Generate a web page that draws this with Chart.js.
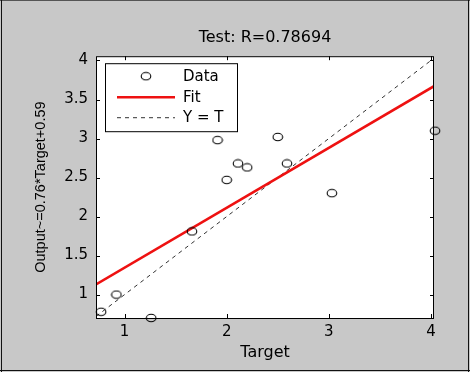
<!DOCTYPE html>
<html lang="en">
<head>
<meta charset="UTF-8">
<title>Test: R=0.78694</title>
<script src="https://cdn.jsdelivr.net/npm/chart.js"></script>
<style>
  html, body { margin: 0; padding: 0; background: #c8c8c8; }
  canvas { display: block; }
</style>
</head>
<body>
<canvas id="regChart" width="470" height="372"></canvas>
<script>
// values
const targets = [0.77, 0.92, 1.26, 1.66, 1.91, 2.00, 2.11, 2.20, 2.50, 2.59, 3.03, 4.04];
const outputs = [0.78, 1.00, 0.70, 1.81, 2.98, 2.47, 2.68, 2.63, 3.02, 2.68, 2.30, 3.10];
const fitX = [0.72, 4.03];
const fitY = [1.13, 3.67];
const identX = [0.72, 4.03];
const identY = [0.72, 4.03];
const xTicks = [1, 2, 3, 4];
const yTicks = [1, 1.5, 2, 2.5, 3, 3.5, 4];
const legendLabels = ['Data', 'Fit', 'Y = T'];

const WIDE = 'DejaVu Sans, Verdana, sans-serif';
const NARROW = 'Liberation Sans, Arial, sans-serif';

function toPoints(xs, ys) {
    return xs.map((x, i) => ({ x: x, y: ys[i] }));
}

// the markers in the picture are slightly wider than tall
const ring = document.createElement('canvas');
ring.width = 12;
ring.height = 10;
(function () {
    const c = ring.getContext('2d');
    c.strokeStyle = '#000';
    c.lineWidth = 1.1;
    c.beginPath();
    c.ellipse(6, 5, 4.8, 3.7, 0, 0, Math.PI * 2);
    c.stroke();
})();

// grey frame, white axes, box, inward ticks and the legend
const matlabLook = {
    id: 'matlabLook',
    beforeDraw(chart) {
        const { ctx, chartArea: a } = chart;
        ctx.save();
        ctx.fillStyle = '#c8c8c8';
        ctx.fillRect(0, 0, chart.width, chart.height);
        ctx.strokeStyle = '#555';
        ctx.lineWidth = 1;
        ctx.beginPath();
        ctx.moveTo(0, 0.5); ctx.lineTo(470, 0.5);
        ctx.stroke();
        ctx.strokeStyle = '#111';
        ctx.beginPath();
        ctx.moveTo(1.5, 0); ctx.lineTo(1.5, 372);
        ctx.moveTo(468.5, 0); ctx.lineTo(468.5, 372);
        ctx.moveTo(0, 370.5); ctx.lineTo(470, 370.5);
        ctx.stroke();
        ctx.fillStyle = '#fff';
        ctx.fillRect(a.left, a.top, a.right - a.left, a.bottom - a.top);
        ctx.restore();
    },
    afterDraw(chart) {
        const { ctx, chartArea: a, scales } = chart;
        ctx.save();
        ctx.strokeStyle = '#000';
        ctx.lineWidth = 1;
        ctx.strokeRect(a.left + 0.5, a.top + 0.5, a.right - a.left - 1, a.bottom - a.top);
        ctx.beginPath();
        xTicks.forEach(v => {
            const px = Math.round(scales.x.getPixelForValue(v)) + 0.5;
            ctx.moveTo(px, a.bottom); ctx.lineTo(px, a.bottom - 4);
            ctx.moveTo(px, a.top); ctx.lineTo(px, a.top + 4);
        });
        yTicks.forEach(v => {
            const py = Math.round(scales.y.getPixelForValue(v)) + 0.5;
            ctx.moveTo(a.left, py); ctx.lineTo(a.left + 4, py);
            ctx.moveTo(a.right, py); ctx.lineTo(a.right - 4, py);
        });
        ctx.stroke();

        // legend box
        const lx = a.left + 9, ly = a.top + 7, lw = 132, lh = 68;
        ctx.fillStyle = '#fff';
        ctx.fillRect(lx, ly, lw, lh);
        ctx.strokeRect(lx + 0.5, ly + 0.5, lw, lh);
        const rows = [ly + 13, ly + 34, ly + 54];
        const sets = chart.data.datasets;
        ctx.font = '15px ' + WIDE;
        ctx.textBaseline = 'middle';
        ctx.fillStyle = '#000';
        legendLabels.forEach((t, i) => ctx.fillText(t, lx + 78, rows[i] + 1));

        ctx.drawImage(ring, lx + 41 - ring.width / 2, rows[0] - ring.height / 2);

        ctx.strokeStyle = sets[1].borderColor;
        ctx.lineWidth = sets[1].borderWidth;
        ctx.beginPath();
        ctx.moveTo(lx + 12, rows[1]); ctx.lineTo(lx + 70, rows[1]);
        ctx.stroke();

        ctx.strokeStyle = sets[2].borderColor;
        ctx.lineWidth = 1;
        ctx.setLineDash(sets[2].borderDash);
        ctx.beginPath();
        ctx.moveTo(lx + 12, rows[2] + 0.5); ctx.lineTo(lx + 70, rows[2] + 0.5);
        ctx.stroke();
        ctx.restore();
    }
};

new Chart(document.getElementById('regChart'), {
    type: 'scatter',
    data: {
        datasets: [
            {
                label: legendLabels[0],
                data: toPoints(targets, outputs),
                showLine: false,
                pointStyle: ring,
                borderColor: '#000',
                clip: false,
                order: 0
            },
            {
                label: legendLabels[1],
                data: toPoints(fitX, fitY),
                showLine: true,
                borderColor: '#ee1111',
                borderWidth: 2.6,
                pointRadius: 0,
                order: 1
            },
            {
                label: legendLabels[2],
                data: toPoints(identX, identY),
                showLine: true,
                borderColor: '#333',
                borderWidth: 1,
                borderDash: [4, 4],
                pointRadius: 0,
                order: 2
            }
        ]
    },
    options: {
        responsive: false,
        animation: false,
        layout: { padding: { left: 0, right: 36, top: 0, bottom: 0 } },
        plugins: {
            legend: { display: false },
            tooltip: { enabled: false },
            title: {
                display: true,
                fullSize: false,
                text: 'Test: R=0.78694',
                color: '#000',
                font: { family: WIDE, size: 16, weight: 'normal' },
                padding: { top: 28, bottom: 9 }
            }
        },
        scales: {
            x: {
                type: 'linear',
                min: 0.72,
                max: 4.03,
                afterFit(scale) { scale.height = 54; },
                afterBuildTicks(scale) { scale.ticks = xTicks.map(v => ({ value: v })); },
                grid: { display: false, drawTicks: false },
                border: { display: false },
                ticks: {
                    color: '#000', padding: 5, font: { family: WIDE, size: 15 },
                    callback: v => String(v)
                },
                title: {
                    display: true,
                    text: 'Target',
                    color: '#000',
                    font: { family: WIDE, size: 16 },
                    padding: { top: 0, bottom: 10 }
                }
            },
            y: {
                type: 'linear',
                min: 0.70,
                max: 4.055,
                afterFit(scale) { scale.width = 96; },
                afterBuildTicks(scale) { scale.ticks = yTicks.map(v => ({ value: v })); },
                grid: { display: false, drawTicks: false },
                border: { display: false },
                ticks: {
                    color: '#000', padding: 8, font: { family: WIDE, size: 15 },
                    callback: v => String(v)
                },
                title: {
                    display: true,
                    text: 'Output~=0.76*Target+0.59',
                    color: '#000',
                    font: { family: NARROW, size: 14.5 },
                    padding: { top: 32, bottom: 0 }
                }
            }
        }
    },
    plugins: [matlabLook]
});
</script>
</body>
</html>
